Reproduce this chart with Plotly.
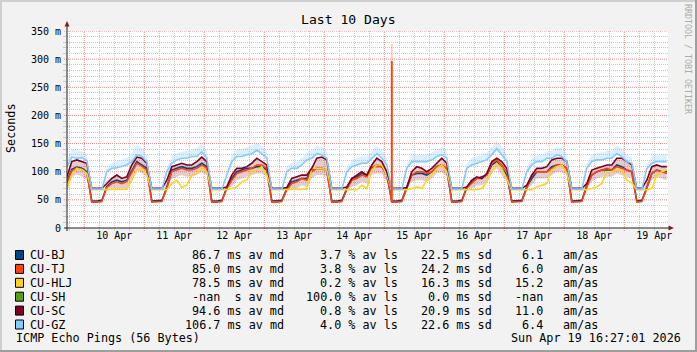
import plotly.graph_objects as go
import pandas as pd

# ---------------- data (values in milliseconds, 2-hour steps from Apr 9 17:00) -------------
gz = [108,126,124,125,120, 69,69,69,
      100,106,107,110,112,118,130,127,118, 69,69,69,
      100,115,121,124,124,127,127,135,124, 69,69,69,
      94,118,127,127,130,132,138,132,124, 69,69,69,
      100,106,106,112,121,124,132,130,124, 69,69,69,
      100,109,112,115,115,124,132,124,112, 69,69,69,
      106,118,118,118,118,121,127,130,124, 69,69,69,
      106,112,115,118,121,130,141,130,118, 69,69,69,
      100,112,118,118,124,124,130,127,118, 69,69,69,
      106,118,121,121,124,124,132,127,118,115, 69,69,
      105,115,118,118,118]
sc = [90,118,121,118,115, 70.5,70.5,70.5,
      79,88,94,88,91,112,126,124,115, 70.5,70.5,70.5,
      85,109,112,115,112,112,118,126,118, 70.5,70.5,70.5,
      73,94,106,106,109,115,124,118,112, 70.5,70.5,70.5,
      72,88,91,94,94,106,124,126,121, 70.5,70.5,70.5,
      73,88,94,100,94,112,124,118,100, 70.5,70.5,70.5,
      72,100,109,106,100,106,115,124,115, 70.5,70.5,70.5,
      73,85,91,88,97,118,124,118,106, 70.5,70.5,70.5,
      76,94,106,106,109,121,124,124,118, 70.5,70.5,70.5,
      79,103,106,109,112,112,124,124,118,112, 70.5,70.5,
      85,109,112,109,109]
bj = [82,104,108,106,100, 48,48,49,
      74,82,85,82,85,103,118,112,106, 48,48,49,
      72,103,106,109,106,106,109,115,109, 48,48,49,
      72,88,100,103,106,106,109,109,103, 48,48,49,
      70,82,85,88,88,103,106,106,103, 48,48,49,
      70,88,91,97,94,106,112,109,94, 48,48,49,
      73,94,97,97,94,100,109,112,103, 48,48,49,
      73,82,88,91,94,112,118,106,94, 48,48,49,
      73,88,100,100,100,109,112,112,106, 48,48,49,
      76,94,100,103,103,103,112,109,103,100, 48,49,
      72,97,103,100,100]
tj = [80,102,107,104,98, 46,46,47,
      72,79,82,79,83,100,115,110,103, 46,46,47,
      70,100,103,106,103,103,106,112,106, 46,46,47,
      70,85,97,100,103,106,112,112,106, 46,46,47,
      68,79,82,88,85,100,106,106,103, 46,46,47,
      68,85,88,94,91,109,109,109,97, 46,46,47,
      70,94,100,100,97,100,109,112,106, 46,46,47,
      71,79,88,88,94,115,121,112,100, 46,46,47,
      71,94,100,100,100,106,112,112,106, 46,46,47,
      73,94,100,103,106,103,109,106,103,100, 46,47,
      70,97,103,100,97]
hlj = [68,95,106,104,97, 68,68,68,
       68,68,68,68,69,85,103,106,94, 68,68,68,
       68,79,85,72,76,94,97,106,100, 68,68,68,
       68,70,73,82,85,100,103,109,94, 68,68,68,
       68,68,68,68,69,106,106,106,103, 68,68,68,
       68,68,68,76,70,103,112,112,94, 68,68,68,
       68,70,73,70,85,94,106,112,100, 68,68,68,
       68,68,68,70,82,100,115,106,88, 68,68,68,
       68,68,73,76,79,103,109,112,97, 68,68,68,
       68,70,73,79,100,100,103,103,85,80, 68,68,
       68,70,94,100,103]
# smoke (spread) bands
gz_smoke_hi = [118,140,138,136,132, 69,69,69,
               108,116,118,122,125,132,148,142,130, 69,69,69,
               108,126,133,136,137,140,142,150,138, 69,69,69,
               100,130,138,140,143,146,152,146,136, 69,69,69,
               108,116,118,124,134,138,146,144,137, 69,69,69,
               108,120,124,127,128,136,146,138,125, 69,69,69,
               114,130,130,130,130,134,140,144,138, 69,69,69,
               114,124,127,130,134,144,156,145,132, 69,69,69,
               108,124,130,130,136,137,144,142,132, 69,69,69,
               114,130,133,134,137,138,146,141,131,125, 69,69,
               113,127,131,131,131]
sc_smoke_lo = [70,90,95,92,86, 70.5,70.5,70.5,
               70,70,70,70,71,88,103,98,91, 70.5,70.5,70.5,
               70,88,91,94,91,91,94,100,94, 70.5,70.5,70.5,
               70,73,85,88,91,94,97,97,91, 70.5,70.5,70.5,
               70,70,70,76,73,88,94,94,91, 70.5,70.5,70.5,
               70,73,76,82,79,94,97,97,82, 70.5,70.5,70.5,
               70,82,85,85,82,88,97,100,91, 70.5,70.5,70.5,
               70,70,76,76,82,100,106,94,82, 70.5,70.5,70.5,
               70,76,88,88,88,94,100,100,94, 70.5,70.5,70.5,
               70,82,88,91,91,91,97,94,91,88, 70.5,70.5,
               70,85,91,88,85]
spike_time = "2026-04-15 03:00"
spike_value = 297
spike_smoke = 327
spike_index = 65

hosts = ["CU-BJ", "CU-TJ", "CU-HLJ", "CU-SH", "CU-SC", "CU-GZ"]
colors = ["#004586", "#ff420e", "#ffd320", "#579d1c", "#7e0021", "#83caff"]
med_vals = ["86.7", "85.0", "78.5", "-nan", "94.6", "106.7"]
med_units = ["ms", "ms", "ms", " s", "ms", "ms"]
loss_vals = ["3.7", "3.8", "0.2", "100.0", "0.8", "4.0"]
sd_vals = ["22.5", "24.2", "16.3", "0.0", "20.9", "22.6"]
amas_vals = ["6.1", "6.0", "15.2", "-nan", "11.0", "6.4"]
y_ticks = [0, 50, 100, 150, 200, 250, 300, 350]
y_ticktext = ["0", "50 m", "100 m", "150 m", "200 m", "250 m", "300 m", "350 m"]

# ---------------- layout geometry ----------------
W, H = 697, 352
L, R, T, B = 67, 29, 31, 124
PW, PH = W - L - R, H - T - B
FONT = "DejaVu Sans Mono"
NB = "\u00a0"
MINOR_GRID = "#C8C8C8"
MAJOR_GRID = "#F08C8C"


def px(x):
    return (x - L) / PW


def py(y):
    return (H - B - y) / PH


times = pd.date_range("2026-04-09 17:00", periods=len(gz), freq="2h")

# grid positions
y_minor = [v for v in range(0, 351, 10) if v % 50 != 0]
x_minor = [t for t in pd.date_range("2026-04-09 18:00", "2026-04-19 18:00", freq="6h") if t.hour != 0]
x_major = pd.date_range("2026-04-10", "2026-04-19", freq="D")
y_major = [v for v in y_ticks if v > 0]

fig = go.Figure()
# smoke bands
fig.add_trace(go.Scatter(x=times, y=sc_smoke_lo, mode="lines", line=dict(width=0),
                         showlegend=False, hoverinfo="skip"))
fig.add_trace(go.Scatter(x=times, y=sc, mode="lines", line=dict(width=0), fill="tonexty",
                         fillcolor="rgba(175,95,105,0.32)", showlegend=False, hoverinfo="skip"))
fig.add_trace(go.Scatter(x=times, y=gz, mode="lines", line=dict(width=0),
                         showlegend=False, hoverinfo="skip"))
fig.add_trace(go.Scatter(x=times, y=gz_smoke_hi, mode="lines", line=dict(width=0), fill="tonexty",
                         fillcolor="rgba(131,202,255,0.28)", showlegend=False, hoverinfo="skip"))

series = {"CU-BJ": bj, "CU-TJ": tj, "CU-HLJ": hlj, "CU-SC": sc, "CU-GZ": gz}
for name, vals in series.items():
    c = colors[hosts.index(name)]
    fig.add_trace(go.Scatter(x=times, y=vals, mode="lines", name=name,
                             line=dict(color=c, width=1.6), showlegend=False))
# TJ spike
fig.add_trace(go.Scatter(x=[spike_time, spike_time], y=[spike_value, spike_smoke], mode="lines",
                         line=dict(color="rgba(255,66,14,0.25)", width=2), showlegend=False))
fig.add_trace(go.Scatter(x=[spike_time, spike_time], y=[tj[spike_index], spike_value], mode="lines",
                         line=dict(color=colors[1], width=2), showlegend=False))

shapes = []
# major grid (red dotted), drawn between grid and traces
for d in x_major:
    shapes.append(dict(type="line", xref="x", yref="paper", x0=d, x1=d, y0=-3 / PH, y1=1,
                       line=dict(color=MAJOR_GRID, width=1, dash="1px,1px"), layer="between"))
for v in y_major:
    shapes.append(dict(type="line", xref="paper", yref="y", x0=-3 / PW, x1=1, y0=v, y1=v,
                       line=dict(color=MAJOR_GRID, width=1, dash="1px,1px"), layer="between"))
# frame (3D border)
shapes.append(dict(type="rect", xref="paper", yref="paper", x0=px(0), x1=px(W), y0=py(0), y1=py(2),
                   fillcolor="#CFCFCF", line=dict(width=0), layer="below"))
shapes.append(dict(type="rect", xref="paper", yref="paper", x0=px(0), x1=px(2), y0=py(0), y1=py(H),
                   fillcolor="#CFCFCF", line=dict(width=0), layer="below"))
shapes.append(dict(type="rect", xref="paper", yref="paper", x0=px(0), x1=px(W), y0=py(H - 2), y1=py(H),
                   fillcolor="#9E9E9E", line=dict(width=0), layer="below"))
shapes.append(dict(type="rect", xref="paper", yref="paper", x0=px(W - 2), x1=px(W), y0=py(0), y1=py(H),
                   fillcolor="#9E9E9E", line=dict(width=0), layer="below"))
# axes
shapes.append(dict(type="line", xref="paper", yref="paper", x0=px(67), x1=px(67), y0=py(231), y1=py(24),
                   line=dict(color="#1F1F1F", width=1)))
shapes.append(dict(type="line", xref="paper", yref="paper", x0=px(64), x1=px(671), y0=py(228), y1=py(228),
                   line=dict(color="#1F1F1F", width=1)))
shapes.append(dict(type="path", xref="paper", yref="paper",
                   path=f"M {px(64.5)},{py(26.5)} L {px(69.5)},{py(26.5)} L {px(67)},{py(21)} Z",
                   fillcolor="#801F1F", line=dict(width=0)))
shapes.append(dict(type="path", xref="paper", yref="paper",
                   path=f"M {px(668.5)},{py(225.5)} L {px(668.5)},{py(230.5)} L {px(674)},{py(228)} Z",
                   fillcolor="#801F1F", line=dict(width=0)))

annotations = []


def ann(text, x, y, xanchor="left", size=11.75, color="black", angle=0, yanchor="middle"):
    annotations.append(dict(text=text.replace(" ", NB), x=px(x), y=py(y), xref="paper", yref="paper",
                            xanchor=xanchor, yanchor=yanchor, showarrow=False, textangle=angle,
                            font=dict(family=FONT, size=size, color=color),
                            borderpad=0, borderwidth=0))


ann("Last 10 Days", 348.5, 19, "center", size=13.1)
ann("Seconds", 11, 128, "center", angle=-90)
ann("RRDTOOL / TOBI OETIKER", 688, 59, "center", size=8.3, color="#ABABAB", angle=90)

row_y0, row_dy = 255.0, 13.9
for i, name in enumerate(hosts):
    yc = row_y0 + i * row_dy
    shapes.append(dict(type="rect", xref="paper", yref="paper", x0=px(15.5), x1=px(23.5),
                       y0=py(yc - 4.5), y1=py(yc + 4.5), fillcolor=colors[i],
                       line=dict(color="black", width=1)))
    ann(name, 30, yc, "left")
    ann(f"{med_vals[i]} {med_units[i]} av md", 284, yc, "right")
    ann(f"{loss_vals[i]} % av ls", 397.5, yc, "right")
    ann(f"{sd_vals[i]} ms sd", 491.5, yc, "right")
    ann(amas_vals[i], 542.5, yc, "right")
    ann("am/as", 562.5, yc, "left")
ann("ICMP Echo Pings (56 Bytes)", 15.5, 338.3, "left")
ann("Sun Apr 19 16:27:01 2026", 680.7, 338.3, "right")

fig.update_layout(
    width=W, height=H, autosize=False,
    margin=dict(l=L, r=R, t=T, b=B, pad=0),
    paper_bgcolor="#F2F2F2", plot_bgcolor="#FFFFFF",
    showlegend=False,
    shapes=shapes, annotations=annotations,
    font=dict(family=FONT, color="black"),
    xaxis=dict(type="date", range=["2026-04-09 17:05", "2026-04-19 17:29"],
               tick0="2026-04-10", dtick=86400000, ticklabelmode="period", tickformat="%d %b",
               showgrid=False, ticks="", ticklen=3,
               tickfont=dict(family=FONT, size=10, color="black"),
               minor=dict(tickmode="array", tickvals=x_minor, showgrid=True, gridcolor=MINOR_GRID,
                          griddash="1px,1px", ticks="outside", ticklen=2, tickcolor=MINOR_GRID),
               showline=False, zeroline=False, fixedrange=True),
    yaxis=dict(range=[0, 350], tickvals=y_ticks, ticktext=y_ticktext,
               showgrid=False, ticks="outside", ticklen=3, tickcolor="rgba(0,0,0,0)",
               tickfont=dict(family=FONT, size=10, color="black"),
               minor=dict(tickmode="array", tickvals=y_minor, showgrid=True, gridcolor=MINOR_GRID,
                          griddash="1px,1px", ticks="outside", ticklen=3, tickcolor=MINOR_GRID),
               showline=False, zeroline=False, fixedrange=True),
)

fig.write_html("out.html")
